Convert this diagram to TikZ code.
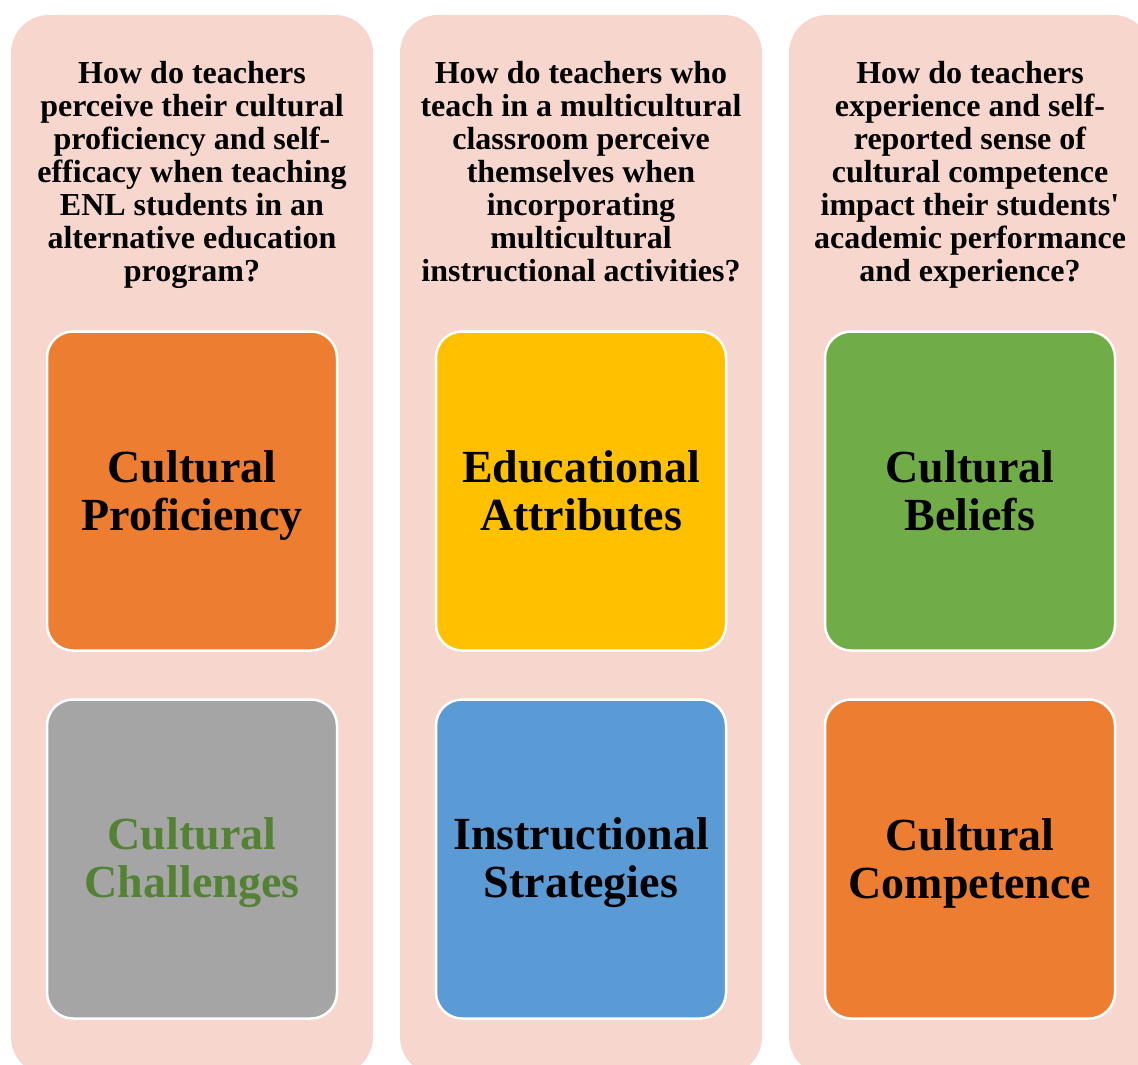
\documentclass[tikz,border=0pt]{standalone}
\usepackage{fontspec}
\setmainfont{Liberation Serif}
\usepackage{tikz}
\definecolor{panelpink}{HTML}{F7D7CD}
\definecolor{tileorange}{HTML}{ED7D31}
\definecolor{tilegray}{HTML}{A5A5A5}
\definecolor{tilegold}{HTML}{FFC000}
\definecolor{tileblue}{HTML}{5B9BD5}
\definecolor{tilegreen}{HTML}{70AD47}
\definecolor{darkgreen}{HTML}{548235}
\newcommand{\lift}{\rule{0pt}{40pt}}
\newcommand{\sink}{\rule[-10pt]{0pt}{10pt}}

\begin{document}
\begin{tikzpicture}[x=1pt,y=-1pt,
    panel/.style={fill=panelpink, rounded corners=38pt, inner sep=0pt,
      minimum width=362pt, minimum height=1060pt},
    ques/.style={align=center, inner sep=0pt, anchor=north,
      font=\fontsize{32}{33}\selectfont\bfseries},
    tile/.style={draw=white, line width=2.5pt, rounded corners=26pt,
      minimum width=290pt, minimum height=319pt, align=center,
      font=\fontsize{46}{48}\selectfont\bfseries}]
  \useasboundingbox (0,0) rectangle (1138,1065);
  % three columns
  \node[panel] (colA) at (192,545) {};
  \node[panel] (colB) at (581,545) {};
  \node[panel] (colC) at (970,545) {};
  % research questions
  \node[ques] (qA) at (192,61.5) {How do teachers\\perceive their cultural\\proficiency and self-\\efficacy when teaching\\ENL students in an\\alternative education\\program?};
  \node[ques] (qB) at (581,61.5) {How do teachers who\\teach in a multicultural\\classroom perceive\\themselves when\\incorporating\\multicultural\\instructional activities?};
  \node[ques] (qC) at (970,61.5) {How do teachers\\experience and self-\\reported sense of\\cultural competence\\impact their students\textquotesingle\\academic performance\\and experience?};
  % themes
  \node[tile, fill=tileorange] (prof) at (192,491) {\lift Cultural\\Proficiency\sink};
  \node[tile, fill=tilegray, text=darkgreen] (chal) at (192,859) {\lift Cultural\\Challenges\sink};
  \node[tile, fill=tilegold] (attr) at (581,491) {\lift Educational\\Attributes\sink};
  \node[tile, fill=tileblue] (strat) at (581,859) {\lift Instructional\\Strategies\sink};
  \node[tile, fill=tilegreen] (beli) at (970,491) {\lift Cultural\\Beliefs\sink};
  \node[tile, fill=tileorange] (comp) at (970,859) {\lift Cultural\\Competence\sink};
\end{tikzpicture}
\end{document}
